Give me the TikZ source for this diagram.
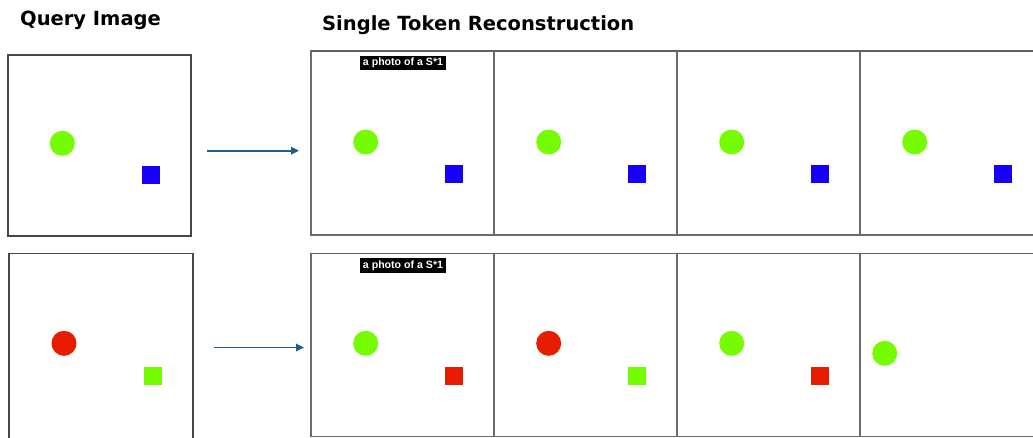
\documentclass[tikz,border=0pt]{standalone}
\usepackage{fontspec}
\newfontfamily\headfont{DejaVu Sans}
\newfontfamily\tagfont{Liberation Sans}
\usetikzlibrary{positioning, arrows.meta, calc}

\definecolor{shgreen}{RGB}{118,252,0}
\definecolor{shblue}{RGB}{22,0,250}
\definecolor{shred}{RGB}{232,28,0}
\definecolor{arrowblue}{RGB}{31,95,138}

\begin{document}
\begin{tikzpicture}[x=1pt, y=-1pt,
    node distance=0pt,
    qbox/.style={draw=black!72, line width=1.2pt, minimum width=183pt, inner sep=0pt, outer sep=0pt},
    cell/.style={draw=black!58, line width=1.1pt, minimum width=183pt, inner sep=0pt, outer sep=0pt},
    dot/.style={circle, minimum size=25pt, inner sep=0pt},
    sq/.style={rectangle, minimum size=18pt, inner sep=0pt},
    tag/.style={fill=black, text=white, font=\tagfont\bfseries\fontsize{10.6}{11}\selectfont, inner xsep=3pt, inner ysep=2.4pt},
    title/.style={font=\headfont\bfseries\fontsize{19.5}{21}\selectfont, anchor=base west, inner sep=0pt},
    arrow/.style={-{Triangle[length=8pt,width=7.5pt]}, line width=1.7pt, arrowblue}
]
\useasboundingbox (0,0) rectangle (1033,437);
\clip (0,0) rectangle (1033,437);

% headings
\node[title] (qtitle) at (20,25) {Query Image};
\node[title] (rtitle) at (322,30) {Single Token Reconstruction};

% query images
\node[qbox, anchor=north west, minimum height=181pt] (q1) at (8,55) {};
\node[qbox, anchor=north west, minimum width=184pt, minimum height=186pt] (q2) at (9,253.3) {};
\node[dot, fill=shgreen] (q1-dot) at ($(q1.north west)+(54.3,88.3)$) {};
\node[sq, fill=shblue] (q1-sq) at ($(q1.north west)+(143,120)$) {};
\node[dot, fill=shred] (q2-dot) at ($(q2.north west)+(55,90)$) {};
\node[sq, fill=shgreen] (q2-sq) at ($(q2.north west)+(144,122.4)$) {};

% reconstructions, top row
\node[cell, anchor=north west, minimum height=184.3pt] (t1) at (311,50.7) {};
\node[cell, minimum height=184.3pt, right=of t1] (t2) {};
\node[cell, minimum height=184.3pt, right=of t2] (t3) {};
\node[cell, minimum height=184.3pt, right=of t3] (t4) {};
\draw[black!62, line width=1.8pt] (t1.north west) -- (t4.north east);
\foreach \c in {t1,t2,t3,t4} {
  \node[dot, fill=shgreen] (\c-dot) at ($(\c.north west)+(54.7,91.3)$) {};
  \node[sq, fill=shblue] (\c-sq) at ($(\c.north west)+(143.3,123.6)$) {};
}
\node[tag] (t1-tag) at ($(t1.north west)+(92,12.2)$) {a photo of a S*1};

% reconstructions, bottom row
\node[cell, anchor=north west, minimum height=183.4pt] (b1) at (311,253.3) {};
\node[cell, minimum height=183.4pt, right=of b1] (b2) {};
\node[cell, minimum height=183.4pt, right=of b2] (b3) {};
\node[cell, minimum height=183.4pt, right=of b3] (b4) {};
\draw[black!62, line width=1.6pt] (b1.north west) -- (b4.north east);
\node[dot, fill=shgreen] (b1-dot) at ($(b1.north west)+(54.7,90)$) {};
\node[sq, fill=shred] (b1-sq) at ($(b1.north west)+(143.3,122.4)$) {};
\node[dot, fill=shred] (b2-dot) at ($(b2.north west)+(54.7,90)$) {};
\node[sq, fill=shgreen] (b2-sq) at ($(b2.north west)+(143.3,122.4)$) {};
\node[dot, fill=shgreen] (b3-dot) at ($(b3.north west)+(54.7,90)$) {};
\node[sq, fill=shred] (b3-sq) at ($(b3.north west)+(143.3,122.4)$) {};
\node[dot, fill=shgreen] (b4-dot) at ($(b4.north west)+(24.7,100)$) {};
\node[tag] (b1-tag) at ($(b1.north west)+(92,12.2)$) {a photo of a S*1};

% arrows
\coordinate (a1) at ($(q1.east)+(16,5.2)$);
\coordinate (a2) at ($(q2.east)+(20.7,1.2)$);
\draw[arrow, shorten >=12pt] (a1) -- (a1 -| t1.west);
\draw[arrow, shorten >=7pt] (a2) -- (a2 -| b1.west);
\end{tikzpicture}
\end{document}
